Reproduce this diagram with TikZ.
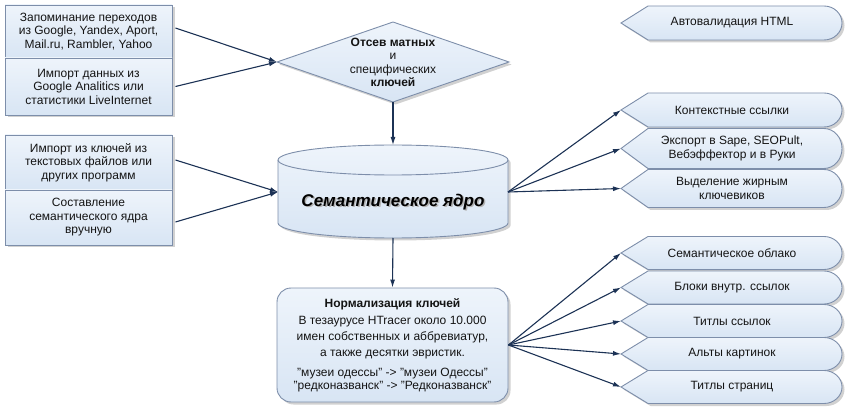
\documentclass[tikz,border=0pt]{standalone}
\usepackage{fontspec}
\setmainfont{Liberation Sans}
\usetikzlibrary{arrows.meta,shadows}
\definecolor{boxtop}{RGB}{238,244,251}
\definecolor{boxbot}{RGB}{216,229,244}
\definecolor{boxdraw}{RGB}{125,142,170}
\definecolor{arrowc}{RGB}{28,50,85}
\definecolor{txt}{RGB}{20,20,20}
\tikzset{
  shp/.style={top color=boxtop, bottom color=boxbot, draw=boxdraw, line width=0.9pt,
    drop shadow={shadow xshift=2.5pt, shadow yshift=-2.5pt, opacity=0.3, fill=black!60}},
  lbl/.style={font=\fontsize{12}{13.5}\selectfont, align=center, text=txt, inner sep=0pt},
  conn/.style={draw=arrowc, line width=1.1pt, -{Latex[length=8pt,width=5pt]}},
}
\newcommand\dispbox[4]{%
  \path[shp] (621,#2) -- (648,#2-#3) -- (824,#2-#3)
     arc[start angle=-90,end angle=90,x radius=18,y radius=#3]
     -- (648,#2+#3) -- cycle;
  \coordinate (#1p) at (621,#2);
  \node[lbl] (#1) at (732,#2) {#4};
}
\begin{document}
\begin{tikzpicture}[x=1pt,y=-1pt]
\useasboundingbox (0,0) rectangle (846,414);

% left input boxes
\node[shp,lbl,minimum width=167,minimum height=53] (mem) at (88.5,31.5)
  {Запоминание переходов\\из Google, Yandex, Aport,\\Mail.ru, Rambler, Yahoo};
\node[shp,lbl,minimum width=167,minimum height=57] (imp) at (88.5,86.5)
  {Импорт данных из\\Google Analitics или\\статистики LiveInternet};
\node[shp,lbl,minimum width=167,minimum height=55] (txtimp) at (88.5,162.5)
  {Импорт из ключей из\\текстовых файлов или\\других программ};
\node[shp,lbl,minimum width=167,minimum height=55] (manual) at (88.5,217.5)
  {Составление\\семантического ядра\\вручную};

% diamond filter
\path[shp] (277,62) -- (393,22) -- (509,62) -- (393,102) -- cycle;
\coordinate (fL) at (277,62);
\coordinate (fB) at (393,102);
\node[lbl] (filter) at (393,62.5)
  {\textbf{Отсев матных}\\и\\специфических\\\textbf{ключей}};

% cylinder
\path[shp] (278,160) -- (278,223)
   arc[start angle=180,end angle=0,x radius=115,y radius=15]
   -- (508,160)
   arc[start angle=0,end angle=-180,x radius=115,y radius=15] -- cycle;
\draw[boxdraw,line width=0.9pt] (278,160) arc[start angle=180,end angle=0,x radius=115,y radius=15];
\coordinate (coreT) at (393,145);
\coordinate (coreB) at (393,238);
\coordinate (coreL) at (278,192);
\coordinate (coreR) at (508,192);
\node[font=\fontsize{17}{20}\selectfont\bfseries\itshape,text=black!30,inner sep=0pt] (coresh) at (394.5,203.5) {Семантическое ядро};
\node[font=\fontsize{17}{20}\selectfont\bfseries\itshape,text=black,inner sep=0pt] (core) at (393,202) {Семантическое ядро};

% normalization box
\node[shp,lbl,rounded corners=14pt,minimum width=231,minimum height=114,
      font=\fontsize{12}{16}\selectfont] (norm) at (392.5,345)
  {\textbf{Нормализация ключей}\\[1pt]
   В тезаурусе HTracer около 10.000\\
   имен собственных и аббревиатур,\\
   а также десятки эвристик.\\[4pt]
   "музеи одессы" -> "музеи Одессы"\\[-3pt]
   "редконазванск" -> "Редконазванск"};

% right display shapes
\dispbox{auto}{23}{17}{Автовалидация HTML}
\dispbox{ctx}{110}{17}{Контекстные ссылки}
\dispbox{exp}{148.5}{20}{Экспорт в Sape, SEOPult,\\Вебэффектор и в Руки}
\dispbox{bold}{188.5}{19}{Выделение жирным\\ключевиков}
\dispbox{cloud}{253}{16.5}{Семантическое облако}
\dispbox{blocks}{287.5}{16.5}{Блоки внутр. ссылок}
\dispbox{ltitle}{321}{16.5}{Титлы ссылок}
\dispbox{alts}{354}{16.5}{Альты картинок}
\dispbox{ptitle}{387}{16.5}{Титлы страниц}

% connectors
\draw[conn] ([xshift=3pt,yshift=3.5pt]mem.east) -- (fL);
\draw[conn] ([xshift=3pt]imp.east) -- (fL);
\draw[conn] ([xshift=3pt,yshift=2.5pt]txtimp.east) -- (coreL);
\draw[conn] ([xshift=3pt,yshift=-4.5pt]manual.east) -- (coreL);
\draw[conn] (fB) -- (coreT);
\draw[conn] (coreB) -- (norm.north);
\draw[conn] (coreR) -- (ctxp);
\draw[conn] (coreR) -- (expp);
\draw[conn] (coreR) -- (boldp);
\draw[conn] (norm.east) -- (cloudp);
\draw[conn] (norm.east) -- (blocksp);
\draw[conn] (norm.east) -- (ltitlep);
\draw[conn] (norm.east) -- (altsp);
\draw[conn] (norm.east) -- (ptitlep);
\end{tikzpicture}
\end{document}
